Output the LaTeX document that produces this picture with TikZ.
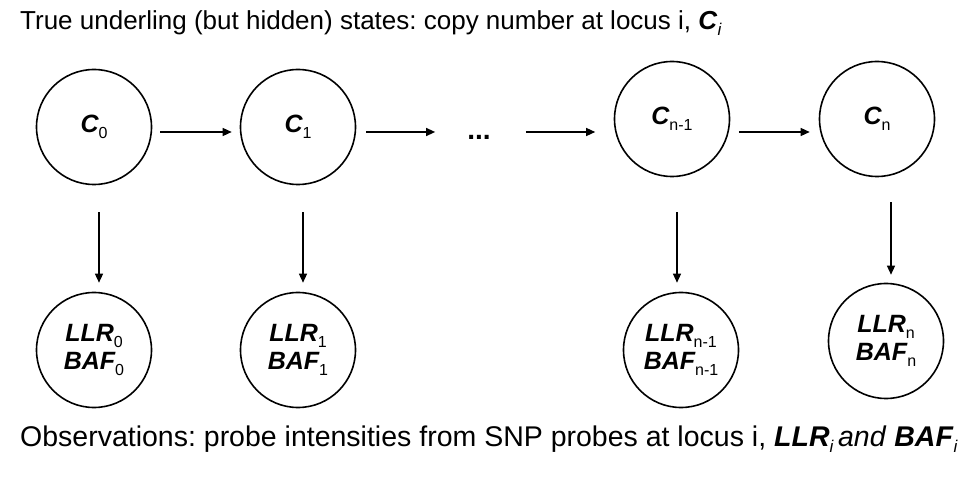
\documentclass[tikz,border=0pt]{standalone}
\usepackage{fontspec}
\setmainfont{Liberation Sans}
\usetikzlibrary{arrows.meta}
\frenchspacing
\newcommand{\lowsub}[1]{\raisebox{-6pt}{\fontsize{16}{16}\selectfont\upshape\mdseries #1}}
\newcommand{\isub}[1]{\raisebox{-6pt}{\fontsize{17}{17}\selectfont\itshape\mdseries #1}}
\begin{document}
\begin{tikzpicture}[x=1pt,y=1pt,
  state/.style={circle,draw,line width=1.6pt,minimum size=115pt,inner sep=0pt,
    font=\fontsize{25}{28}\selectfont\bfseries\itshape},
  obs/.style={state,align=center},
  arr/.style={-{Triangle[length=9pt,width=8pt]},line width=1.3pt},
  caption/.style={anchor=west,inner sep=0pt}]
\useasboundingbox (0,0) rectangle (980,477);
\node[caption,font=\fontsize{26}{30}\selectfont] (title) at (20,454) {True underling (but hidden) states: copy number at locus i, \textbf{\textit{C}}\isub{i}};
\node[state] (c0) at (94,350) {C\lowsub{0}};
\node[state] (c1) at (298,350) {C\lowsub{1}};
\node[inner sep=0pt,font=\fontsize{28}{30}\selectfont\bfseries] (dots) at (479,340) {...};
\node[state] (cn1) at (672,358) {C\lowsub{n-1}};
\node[state] (cn) at (877,358) {C\lowsub{n}};
\node[obs] (o0) at (94,127) {LLR\lowsub{0}\\BAF\lowsub{0}};
\node[obs] (o1) at (298,127) {LLR\lowsub{1}\\BAF\lowsub{1}};
\node[obs] (on1) at (681,127) {LLR\lowsub{n-1}\\BAF\lowsub{n-1}};
\node[obs] (on) at (886,136) {LLR\lowsub{n}\\BAF\lowsub{n}};
\node[caption,font=\fontsize{28.5}{32}\selectfont] (obsnote) at (20,38) {Observations: probe intensities from SNP probes at locus i, \textbf{\textit{LLR}}\isub{i}\,\textit{and} \textbf{\textit{BAF}}\isub{i}};
\draw[arr,shorten <=8pt,shorten >=8pt] ([yshift=-5pt]c0.east) -- ([yshift=-5pt]c1.west);
\draw[arr,shorten <=10pt,shorten >=32pt] ([yshift=-5pt]c1.east) -- ([yshift=5pt]dots.west);
\draw[arr,shorten <=35pt,shorten >=18.5pt] ([yshift=5pt]dots.east) -- ([yshift=-13pt]cn1.west);
\draw[arr,shorten <=8.5pt,shorten >=9pt] ([yshift=-13pt]cn1.east) -- ([yshift=-13pt]cn.west);
\draw[arr,shorten <=27pt,shorten >=9pt] ([xshift=5pt]c0.south) -- ([xshift=5pt]o0.north);
\draw[arr,shorten <=27pt,shorten >=9pt] ([xshift=5pt]c1.south) -- ([xshift=5pt]o1.north);
\draw[arr,shorten <=35pt,shorten >=9pt] ([xshift=5pt]cn1.south) -- ([xshift=-4pt]on1.north);
\draw[arr,shorten <=25pt,shorten >=8pt] ([xshift=14pt]cn.south) -- ([xshift=5pt]on.north);
\end{tikzpicture}
\end{document}
